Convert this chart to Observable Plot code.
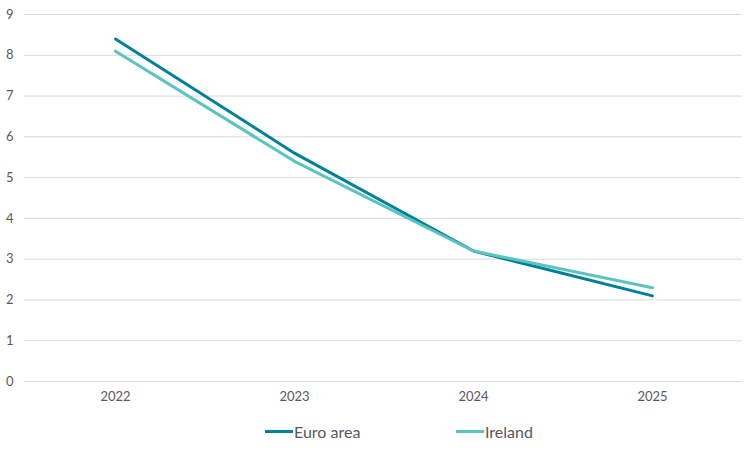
<!DOCTYPE html>
<html>
<head>
<meta charset="utf-8">
<script src="https://cdn.jsdelivr.net/npm/d3@7"></script>
<script src="https://cdn.jsdelivr.net/npm/@observablehq/plot@0.6"></script>
<style>
  body { margin: 0; background: #fff; font-family: Lato, "Open Sans", sans-serif; }
  #legend { display: flex; justify-content: flex-start; height: 35px; align-items: center; font-size: 16px; color: #595959; }
  .item { display: flex; align-items: center; position: absolute; }
  .sw { width: 28px; height: 3px; margin-right: 1px; }
</style>
</head>
<body>
<div id="chart"></div>
<div id="legend" style="position:relative"></div>
<script>
const years = ["2022", "2023", "2024", "2025"];
const seriesNames = ["Euro area", "Ireland"];
const euroArea = [8.4, 5.6, 3.2, 2.1];
const ireland = [8.1, 5.4, 3.2, 2.3];
const colors = ["#00819a", "#5cc4bf"];
const yTicks = [0, 1, 2, 3, 4, 5, 6, 7, 8, 9];

const data = [];
years.forEach((y, i) => {
  data.push({ year: y, value: euroArea[i], series: seriesNames[0] });
  data.push({ year: y, value: ireland[i], series: seriesNames[1] });
});

const plot = Plot.plot({
  width: 756,
  height: 415,
  marginTop: 14,
  marginBottom: 34,
  marginLeft: 24,
  marginRight: 14,
  style: { fontFamily: "Lato, 'Open Sans', sans-serif", fontSize: "13px", color: "#595959", background: "#fff" },
  x: { type: "point", domain: years, padding: 0.5, label: null },
  y: { domain: [0, 9], label: null },
  color: { domain: seriesNames, range: colors },
  marks: [
    Plot.gridY(yTicks, { stroke: "#d9d9d9", strokeOpacity: 1, strokeWidth: 1 }),
    Plot.axisY(yTicks, { tickSize: 0, tickPadding: 11, label: null, fontSize: 13, fill: "#595959" }),
    Plot.axisX({ tickSize: 0, tickPadding: 10, label: null, fontSize: 13, fill: "#595959" }),
    Plot.lineY(data, { x: "year", y: "value", stroke: "series", z: "series", strokeWidth: 3 })
  ]
});
document.getElementById("chart").appendChild(plot);

const legend = document.getElementById("legend");
const positions = [265, 456];
seriesNames.forEach((s, i) => {
  const item = document.createElement("div");
  item.className = "item";
  item.style.left = positions[i] + "px";
  item.style.top = "7px";
  const sw = document.createElement("div");
  sw.className = "sw";
  sw.style.background = colors[i];
  const t = document.createElement("span");
  t.textContent = s;
  item.appendChild(sw);
  item.appendChild(t);
  legend.appendChild(item);
});
</script>
</body>
</html>
